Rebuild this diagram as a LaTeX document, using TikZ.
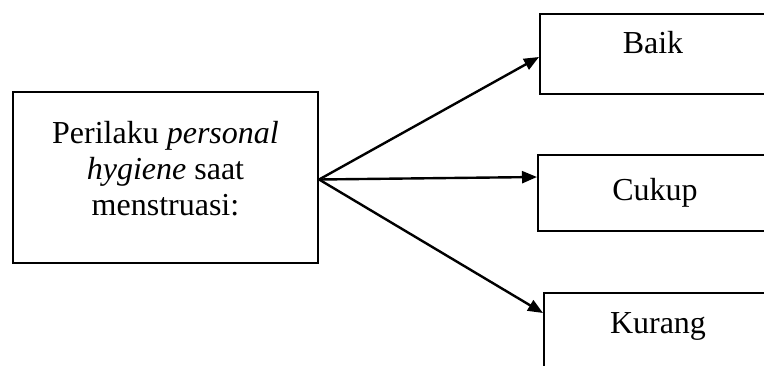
\documentclass[tikz,border=0pt]{standalone}
\usepackage{fontspec}
\setmainfont{Liberation Serif}
\usetikzlibrary{arrows.meta}
\begin{document}
\begin{tikzpicture}[x=1pt,y=-1pt,
  box/.style={draw,line width=2.2pt,minimum width=#1,inner sep=0pt},
  lbl/.style={anchor=base,inner sep=0pt,font=\fontsize{32}{36}\selectfont},
  conn/.style={line width=2.4pt,-{Triangle[length=15pt,width=12pt]}}]
\useasboundingbox (0,0) rectangle (764,365);
\clip (0,0) rectangle (764,365);
\node[box=305pt,minimum height=171pt] (src) at (165.5,177.5) {};
\node[box=260pt,minimum height=80pt,anchor=north west] (baik) at (539,13) {};
\node[box=260pt,minimum height=76pt,anchor=north west] (cukup) at (537,154) {};
\node[box=260pt,minimum height=100pt,anchor=north west] (kurang) at (543,292) {};
\node[lbl] (t1) at (165.5,143) {Perilaku \textit{personal}};
\node[lbl] (t2) at (165.5,179) {\textit{hygiene} saat};
\node[lbl] (t3) at (165.5,215) {menstruasi:};
\node[lbl] (tb) at (653,53) {Baik};
\node[lbl] (tc) at (655,200) {Cukup};
\node[lbl] (tk) at (658,333) {Kurang};
\coordinate (s) at ([yshift=-2pt]src.east);
\draw[conn] (s) -- ([yshift=-44pt]baik.north west);
\draw[conn] (s) -- ([yshift=-23pt]cukup.north west);
\draw[conn] (s) -- ([yshift=-21pt]kurang.north west);
\end{tikzpicture}
\end{document}
